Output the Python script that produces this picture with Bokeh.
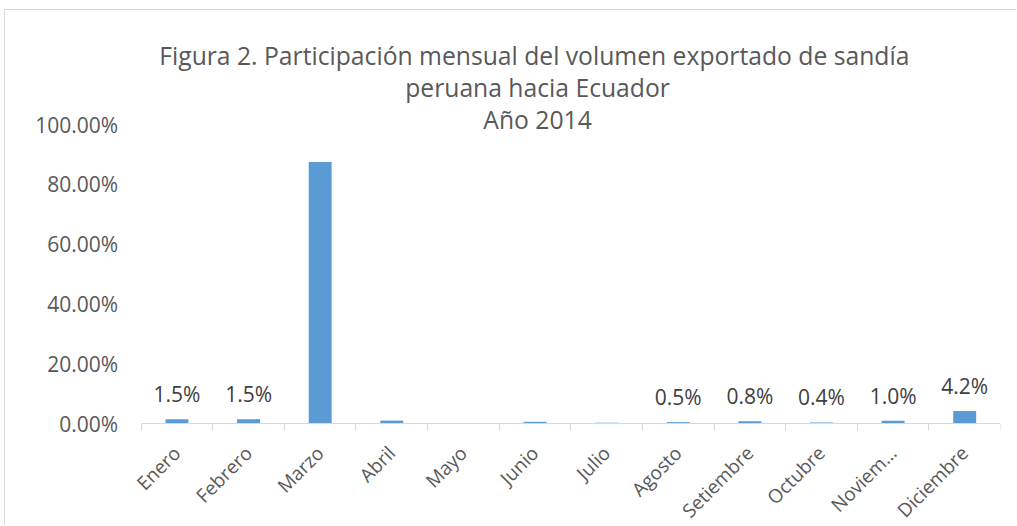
import math
from bokeh.plotting import figure
from bokeh.models import (Range1d, FixedTicker, PrintfTickFormatter, Label, ColumnDataSource,
                          CustomJSTickFormatter)
from bokeh.core.properties import value
from bokeh.embed import file_html
from bokeh.resources import INLINE

months = ["Enero", "Febrero", "Marzo", "Abril", "Mayo", "Junio", "Julio",
          "Agosto", "Setiembre", "Octubre", "Noviem…", "Diciembre"]
shares = [1.5, 1.5, 87.5, 1.0, 0.2, 0.6, 0.3, 0.5, 0.8, 0.4, 1.0, 4.2]
show_label = [True, True, False, False, False, False, False, True, True, True, True, True]
y_ticks = [0, 20, 40, 60, 80, 100]
title_lines = ["Figura 2. Participación  mensual del volumen exportado de sandía",
               "peruana hacia Ecuador",
               "Año 2014"]

FONT = "Open Sans"
TXT = "#595959"

p = figure(width=1012, height=516, x_range=Range1d(-1.615, 12), y_range=Range1d(-34.4, 136.8),
           output_backend="svg", toolbar_location=None,
           min_border_left=20, min_border_right=17, min_border_top=4, min_border_bottom=0)
p.outline_line_color = None
p.background_fill_color = "white"
p.border_fill_color = "white"
p.xgrid.visible = False
p.ygrid.visible = False
p.styles = {"margin-left": "4px", "margin-top": "9px",
            "border-left": "1px solid #d9d9d9", "border-top": "1px solid #d9d9d9"}

xs = [i + 0.5 for i in range(len(months))]
src = ColumnDataSource(dict(x=xs, top=shares))
p.vbar(x="x", top="top", width=0.32, source=src, fill_color="#5B9BD5", line_color=None)

lx = [x for x, s in zip(xs, show_label) if s]
ly = [v for v, s in zip(shares, show_label) if s]
lt = [f"{v:.1f}%" for v, s in zip(shares, show_label) if s]
p.text(x=lx, y=ly, text=lt, text_align="center", text_baseline="middle", y_offset=-25,
       text_font=value(FONT), text_font_size="21px", text_color="#404040")

# x axis, pinned at y = 0, spanning only the category area
xa = p.xaxis[0]
xa.fixed_location = 0
xa.bounds = (0, len(months))
xa.ticker = FixedTicker(ticks=xs, minor_ticks=list(range(len(months) + 1)))
xa.formatter = CustomJSTickFormatter(args=dict(months=months),
                                     code="return months[Math.floor(tick)] || '';")
xa.major_label_orientation = math.pi / 4
xa.major_tick_line_color = None
xa.major_tick_out = 7
xa.major_tick_in = 0
xa.minor_tick_line_color = "#d9d9d9"
xa.minor_tick_out = 7
xa.minor_tick_in = 0
xa.axis_line_color = "#d9d9d9"
xa.major_label_text_font = FONT
xa.major_label_text_font_size = "19px"
xa.major_label_text_color = TXT
xa.major_label_standoff = 19

# y axis, pinned at x = 0 (left edge of the first category)
ya = p.yaxis[0]
ya.fixed_location = 0
ya.ticker = FixedTicker(ticks=y_ticks)
ya.formatter = PrintfTickFormatter(format="%.2f%%")
ya.axis_line_color = None
ya.major_tick_line_color = None
ya.minor_tick_line_color = None
ya.major_tick_out = 0
ya.major_tick_in = 0
ya.major_label_standoff = 23
ya.major_label_text_font = FONT
ya.major_label_text_font_size = "21px"
ya.major_label_text_color = TXT

for txt, yy in zip(title_lines, [123.1, 112.4, 101.7]):
    p.add_layout(Label(x=5.535, y=yy, text=txt, text_align="center", text_baseline="middle",
                       text_font=FONT, text_font_size="24.7px", text_color=TXT))

open("out.html", "w").write(file_html(p, INLINE))
